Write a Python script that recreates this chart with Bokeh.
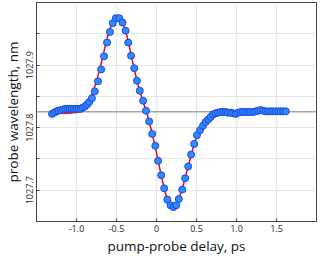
from bokeh.plotting import figure
from bokeh.models import FixedTicker, Span, Range1d, ColumnDataSource
from bokeh.embed import file_html
from bokeh.resources import INLINE

# measured points
delay = [-1.306, -1.278, -1.251, -1.224, -1.195, -1.168, -1.141, -1.113, -1.086, -1.059,
         -1.031, -1.004, -0.976, -0.948, -0.921, -0.894, -0.868, -0.841, -0.807, -0.771,
         -0.731, -0.692, -0.656, -0.618, -0.582, -0.547, -0.509, -0.466, -0.425, -0.386,
         -0.353, -0.318, -0.278, -0.245, -0.209, -0.168, -0.131, -0.092, -0.054, -0.015,
         0.020, 0.059, 0.096, 0.135, 0.175, 0.211, 0.247, 0.279, 0.322, 0.358,
         0.396, 0.432, 0.471, 0.506, 0.544, 0.581, 0.614, 0.646, 0.676, 0.708,
         0.738, 0.769, 0.800, 0.832, 0.864, 0.894, 0.926, 0.958, 0.988, 1.020,
         1.052, 1.082, 1.114, 1.146, 1.176, 1.208, 1.240, 1.271, 1.302, 1.334,
         1.365, 1.396, 1.428, 1.459, 1.491, 1.522, 1.553, 1.585, 1.616]
wavelength = [1027.822, 1027.824, 1027.826, 1027.827, 1027.828, 1027.829, 1027.830, 1027.830, 1027.830, 1027.830,
              1027.830, 1027.830, 1027.830, 1027.830, 1027.832, 1027.834, 1027.837, 1027.841, 1027.847, 1027.858,
              1027.874, 1027.893, 1027.914, 1027.936, 1027.953, 1027.967, 1027.975, 1027.975, 1027.968, 1027.955,
              1027.936, 1027.915, 1027.895, 1027.875, 1027.859, 1027.843, 1027.827, 1027.810, 1027.790, 1027.771,
              1027.747, 1027.724, 1027.703, 1027.685, 1027.676, 1027.673, 1027.676, 1027.686, 1027.701, 1027.719,
              1027.738, 1027.757, 1027.774, 1027.788, 1027.796, 1027.803, 1027.809, 1027.813, 1027.817, 1027.821,
              1027.823, 1027.824, 1027.825, 1027.825, 1027.825, 1027.824, 1027.824, 1027.823, 1027.822, 1027.824,
              1027.825, 1027.825, 1027.825, 1027.825, 1027.825, 1027.825, 1027.826, 1027.827, 1027.828, 1027.827,
              1027.826, 1027.826, 1027.826, 1027.826, 1027.826, 1027.826, 1027.826, 1027.826, 1027.826]

# fitted curve
fit_delay = [-1.306, -1.215, -1.098, -1.004, -0.956, -0.909, -0.874, -0.839, -0.800, -0.760,
             -0.721, -0.682, -0.642, -0.604, -0.565, -0.525, -0.486, -0.447, -0.407, -0.368,
             -0.333, -0.298, -0.262, -0.227, -0.192, -0.156, -0.121, -0.086, -0.051, -0.015,
             0.020, 0.055, 0.091, 0.126, 0.161, 0.196, 0.232, 0.267, 0.302, 0.338,
             0.373, 0.408, 0.444, 0.479, 0.514, 0.549, 0.596, 0.644, 0.691, 0.738,
             0.808, 0.902, 1.020, 1.255, 1.616]
fit_wavelength = [1027.822, 1027.823, 1027.823, 1027.824, 1027.826, 1027.830, 1027.835, 1027.843, 1027.856, 1027.870,
                  1027.888, 1027.907, 1027.930, 1027.949, 1027.964, 1027.973, 1027.976, 1027.973, 1027.962, 1027.946,
                  1027.926, 1027.905, 1027.885, 1027.866, 1027.852, 1027.837, 1027.823, 1027.807, 1027.789, 1027.769,
                  1027.747, 1027.726, 1027.706, 1027.689, 1027.679, 1027.674, 1027.675, 1027.682, 1027.695, 1027.710,
                  1027.727, 1027.744, 1027.761, 1027.777, 1027.789, 1027.799, 1027.808, 1027.814, 1027.819, 1027.822,
                  1027.824, 1027.825, 1027.825, 1027.826, 1027.826]

baseline = 1027.8255

x_ticks = [-1.0, -0.5, 0.0, 0.5, 1.0, 1.5]
x_tick_labels = ["-1.0", "-0.5", "0", "0.5", "1.0", "1.5"]
y_ticks = [1027.7, 1027.8, 1027.9]
y_tick_labels = ["1027.7", "1027.8", "1027.9"]
y_minor_ticks = [1027.65, 1027.75, 1027.85, 1027.95]

FONT = "Open Sans"
TXT = "#262626"
FRAME = "#444444"
GRID = "#e6e6e6"

p = figure(width=319, height=257,
           x_range=Range1d(-1.5, 2.0), y_range=Range1d(1027.65, 1028.0),
           output_backend="svg", toolbar_location=None,
           min_border_left=0, min_border_right=3, min_border_top=2, min_border_bottom=0)

p.background_fill_color = "white"
p.border_fill_color = "white"
p.outline_line_color = FRAME
p.outline_line_width = 1

xt = FixedTicker(ticks=x_ticks)
yt = FixedTicker(ticks=y_ticks, minor_ticks=y_minor_ticks)
p.xaxis.ticker = xt
p.yaxis.ticker = yt
p.xgrid.ticker = xt
p.ygrid.ticker = yt
p.xgrid.grid_line_color = GRID
p.ygrid.grid_line_color = GRID
p.ygrid.minor_grid_line_color = GRID

p.xaxis.major_label_overrides = {t: s for t, s in zip(x_ticks, x_tick_labels)}
p.yaxis.major_label_overrides = {t: s for t, s in zip(y_ticks, y_tick_labels)}

for ax in (p.xaxis[0], p.yaxis[0]):
    ax.axis_line_color = FRAME
    ax.major_tick_line_color = FRAME
    ax.minor_tick_line_color = FRAME
    ax.major_tick_in = 3
    ax.major_tick_out = 0
    ax.minor_tick_in = 0
    ax.minor_tick_out = 0
    ax.major_label_text_font = FONT
    ax.major_label_text_font_size = "9px"
    ax.major_label_text_color = TXT
    ax.axis_label_text_font = FONT
    ax.axis_label_text_font_size = "13.5px"
    ax.axis_label_text_font_style = "normal"
    ax.axis_label_text_color = "#111111"
    ax.major_label_standoff = 3
    ax.axis_label_standoff = 2

p.yaxis.minor_tick_in = 3
p.yaxis.major_label_orientation = "vertical"
p.xaxis.axis_label = "pump-probe delay, ps"
p.yaxis.axis_label = "probe wavelength, nm"

p.add_layout(Span(location=baseline, dimension="width", line_color="#a6a6a6",
                  line_width=1.5, level="underlay"))

p.line(fit_delay, fit_wavelength, line_color="#ff0000", line_width=1.5)

src = ColumnDataSource(dict(x=delay, y=wavelength))
p.scatter("x", "y", source=src, size=7, fill_color="#2a8cff", line_color="#2545e0", line_width=1)

open("out.html", "w").write(file_html(p, INLINE))
